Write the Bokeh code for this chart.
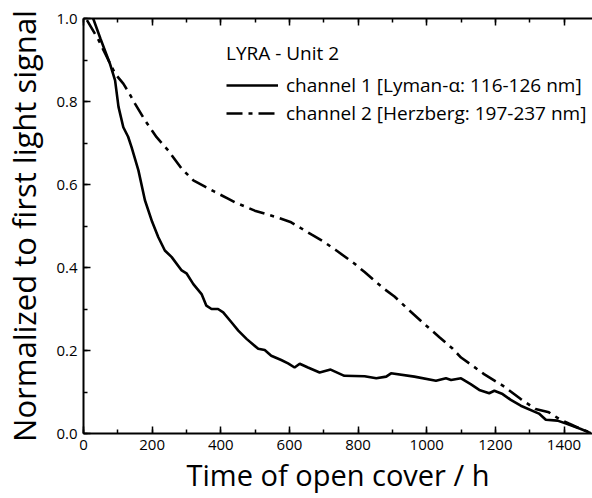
from bokeh.plotting import figure
from bokeh.models import (LinearAxis, SingleIntervalTicker, PrintfTickFormatter,
                          Legend, LegendItem, Range1d, CustomJSTickFormatter)
from bokeh.embed import file_html
from bokeh.resources import INLINE

ch1_t = [26, 50, 77, 92, 102, 116, 130, 140, 160, 179, 200, 218, 237, 257, 286, 300,
         320, 344, 358, 373, 392, 407, 431, 451, 475, 509, 528, 547, 576, 596, 615,
         630, 654, 688, 720, 760, 819, 853, 882, 896, 964, 1027, 1056, 1071, 1100,
         1128, 1153, 1182, 1197, 1221, 1245, 1274, 1327, 1347, 1381, 1410, 1449, 1478]
ch1_v = [1.005, 0.95, 0.891, 0.851, 0.787, 0.738, 0.715, 0.69, 0.634, 0.562, 0.51,
         0.473, 0.441, 0.425, 0.393, 0.386, 0.36, 0.336, 0.308, 0.300, 0.300, 0.292,
         0.268, 0.248, 0.228, 0.204, 0.201, 0.1875, 0.177, 0.169, 0.159, 0.168, 0.159,
         0.147, 0.154, 0.139, 0.138, 0.133, 0.137, 0.145, 0.137, 0.127, 0.133, 0.129,
         0.133, 0.119, 0.105, 0.097, 0.103, 0.095, 0.081, 0.067, 0.048, 0.033, 0.031,
         0.023, 0.011, 0.001]

ch2_t = [10, 44, 63, 92, 116, 131, 150, 179, 213, 247, 286, 320, 354, 383, 421, 441,
         499, 567, 605, 635, 665, 700, 735, 790, 819, 848, 877, 906, 945, 993, 1037, 1076,
         1100, 1129, 1167, 1226, 1274, 1317, 1356, 1386, 1414, 1449, 1478]
ch2_v = [0.996, 0.948, 0.916, 0.867, 0.843, 0.823, 0.795, 0.755, 0.714, 0.682, 0.638,
         0.610, 0.595, 0.582, 0.566, 0.557, 0.537, 0.520, 0.509, 0.494, 0.479, 0.462,
         0.442, 0.409, 0.389, 0.368, 0.348, 0.330, 0.300, 0.264, 0.232, 0.204, 0.183,
         0.166, 0.143, 0.113, 0.083, 0.059, 0.051, 0.035, 0.024, 0.011, 0.002]

legend_title = "LYRA - Unit 2"
label1 = "channel 1 [Lyman-\u03b1: 116-126 nm]"
label2 = "channel 2 [Herzberg: 197-237 nm]"
x_label = "Time of open cover / h"
y_label = "Normalized to first light signal"

FONT = "Open Sans"

p = figure(width=592, height=498, output_backend="svg", toolbar_location=None,
           x_range=Range1d(0, 1483), y_range=Range1d(0, 1.0),
           min_border_left=82, min_border_right=0, min_border_top=18,
           min_border_bottom=65, outline_line_color=None)
p.grid.visible = False
p.background_fill_color = "white"

r1 = p.line(ch1_t, ch1_v, line_color="black", line_width=2.6)
r2 = p.line(ch2_t, ch2_v, line_color="black", line_width=2.6, line_dash="16 6 4 6")

def style(ax):
    ax.axis_line_color = "black"
    ax.axis_line_width = 2
    ax.major_tick_in = 7
    ax.major_tick_out = 0
    ax.minor_tick_in = 4
    ax.minor_tick_out = 0
    ax.major_tick_line_width = 1.5
    ax.minor_tick_line_width = 1.5
    ax.major_tick_line_color = "black"
    ax.minor_tick_line_color = "black"
    ax.major_label_text_font = FONT
    ax.major_label_text_font_size = "15px"
    ax.major_label_text_color = "black"
    ax.axis_label_text_font = FONT
    ax.axis_label_text_font_style = "normal"
    ax.axis_label_text_color = "black"

xa = p.xaxis[0]
xa.ticker = SingleIntervalTicker(interval=200, num_minor_ticks=2)
xa.axis_label = x_label
style(xa)
xa.axis_label_text_font_size = "29px"
xa.major_label_standoff = 6
xa.axis_label_standoff = 2

ya = p.yaxis[0]
ya.ticker = SingleIntervalTicker(interval=0.2, num_minor_ticks=2)
ya.formatter = PrintfTickFormatter(format="%.1f")
ya.axis_label = y_label
style(ya)
ya.axis_label_text_font_size = "31px"
ya.major_label_standoff = 6
ya.axis_label_standoff = 8

top = LinearAxis(ticker=SingleIntervalTicker(interval=200, num_minor_ticks=2),
                 formatter=CustomJSTickFormatter(code="return ''"))
style(top)
top.major_label_standoff = 0
p.add_layout(top, "above")

legend = Legend(items=[LegendItem(label=label1, renderers=[r1]),
                       LegendItem(label=label2, renderers=[r2])],
                title=legend_title, location=(143, 307),
                border_line_color=None, background_fill_alpha=0,
                padding=0, margin=0, spacing=2,
                glyph_width=52, glyph_height=22, label_height=22,
                label_standoff=8,
                label_text_font=FONT, label_text_font_size="19px",
                label_text_color="black",
                title_text_font=FONT, title_text_font_size="19px",
                title_text_color="black",
                title_text_font_style="normal", title_standoff=6)
p.add_layout(legend, "center")

open("out.html", "w").write(file_html(p, INLINE))
